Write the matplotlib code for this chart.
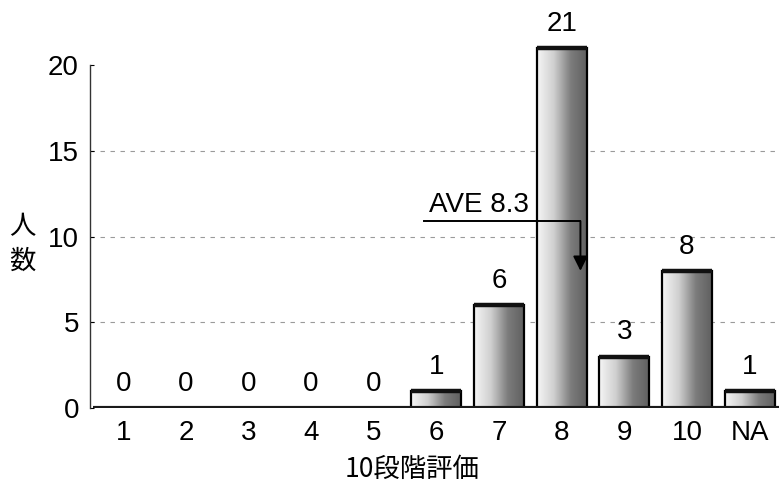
import numpy as np
import matplotlib
matplotlib.use('Agg')
from matplotlib import pyplot as plt
from matplotlib.colors import LinearSegmentedColormap

# 10-step rating results
categories = ['1', '2', '3', '4', '5', '6', '7', '8', '9', '10', 'NA']
counts = [0, 0, 0, 0, 0, 1, 6, 21, 3, 8, 1]
average = 8.3
yticks = [0, 5, 10, 15, 20]

plt.rcParams['font.family'] = ['Liberation Sans', 'DejaVu Sans']
jp = ['Noto Sans CJK JP', 'DejaVu Sans']

fig = plt.figure(figsize=(7.79, 4.88), dpi=100)
ax = fig.add_axes([90 / 779, 80 / 488, 689 / 779, 408 / 488])

x = np.arange(len(categories))
width = 0.8
shade = LinearSegmentedColormap.from_list('shade', ['#f6f6f6', '#cfcfcf', '#7c7c7c', '#5e5e5e'])
grad = np.linspace(0, 1, 256).reshape(1, -1)

bars = ax.bar(x, counts, width, color='none', edgecolor='black', linewidth=1.6, zorder=3)
for b, v in zip(bars, counts):
    x0 = b.get_x()
    if v > 0:
        im = ax.imshow(grad, cmap=shade, aspect='auto', extent=(x0, x0 + width, 0, v),
                       zorder=2, interpolation='bicubic')
        im.set_clip_path(b)
        # darker cap on top of each bar
        ax.plot([x0, x0 + width], [v, v], color='#111111', lw=3.2, zorder=4,
                solid_capstyle='butt')
    ax.annotate(str(v), (x0 + width / 2, v), xytext=(0, 8), textcoords='offset points',
                ha='center', va='bottom', fontsize=20)

# dark base line under the bars
ax.plot([-0.48, 10.48], [0, 0], color='#1a1a1a', lw=3, zorder=5, solid_capstyle='butt')

# average marker, positioned on the category scale (category '1' sits at 0)
avg_pos = average - 1
ax.plot([4.8, avg_pos], [10.9, 10.9], color='black', lw=1.4, zorder=6)
ax.annotate('', xy=(avg_pos, 8.0), xytext=(avg_pos, 10.9),
            arrowprops=dict(arrowstyle='-|>', color='black', lw=1.4,
                            mutation_scale=22, shrinkA=0, shrinkB=0), zorder=6)
ax.text(4.88, 11.1, 'AVE 8.3', fontsize=20, ha='left', va='bottom', zorder=6)

ax.set_xlim(-0.53, 10.47)
ax.set_ylim(0, 23.8)
ax.set_xticks(x)
ax.set_xticklabels(categories, fontsize=20)
ax.set_yticks(yticks)
ax.set_yticklabels([str(t) for t in yticks], fontsize=20)
ax.tick_params(axis='x', length=0, pad=9)
ax.tick_params(axis='y', direction='in', length=3, width=0.8, pad=8)

for t in [5, 10, 15]:
    ax.axhline(t, color='#9a9a9a', lw=0.8, ls=(0, (4, 5)), zorder=1)

for s in ['top', 'right', 'bottom']:
    ax.spines[s].set_visible(False)
ax.spines['left'].set_bounds(0, 20)
ax.spines['left'].set_linewidth(1.0)
ax.spines['left'].set_color('#333333')

fig.text(22 / 779, 1 - 244 / 488, '人\n数', fontsize=19, family=jp, ha='center', va='center',
         linespacing=1.35)
fig.text(412 / 779, 1 - 469 / 488, '10段階評価', fontsize=19, family=jp, ha='center', va='center')

fig.savefig('out.png', dpi=100)
